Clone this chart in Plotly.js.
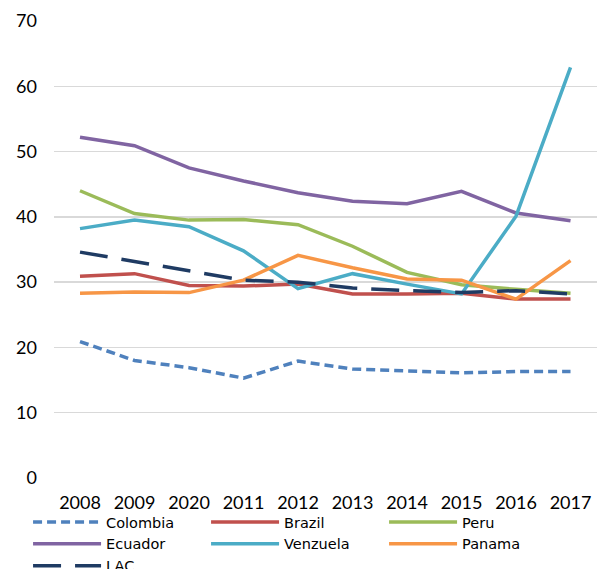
<!DOCTYPE html>
<html>
<head>
<meta charset="utf-8">
<script src="https://cdn.plot.ly/plotly-3.0.1.min.js"></script>
<style>html,body{margin:0;padding:0;background:#fff;}#chart{width:597px;height:569px;}</style>
</head>
<body>
<div id="chart"></div>
<script>
const years = ["2008","2009","2020","2011","2012","2013","2014","2015","2016","2017"];
const colombia  = [20.9, 18.0, 16.9, 15.3, 17.9, 16.7, 16.4, 16.1, 16.3, 16.3];
const brazil    = [30.9, 31.3, 29.5, 29.4, 29.7, 28.2, 28.2, 28.3, 27.4, 27.4];
const peru      = [44.0, 40.5, 39.5, 39.6, 38.8, 35.5, 31.5, 29.6, 28.9, 28.3];
const ecuador   = [52.2, 50.9, 47.5, 45.5, 43.7, 42.4, 42.0, 43.9, 40.6, 39.4];
const venezuela = [38.2, 39.5, 38.5, 34.8, 29.0, 31.3, 29.7, 28.2, 40.1, 62.9];
const panama    = [28.3, 28.5, 28.4, 30.3, 34.1, 32.2, 30.5, 30.3, 27.4, 33.3];
const lac       = [34.6, 33.2, 31.8, 30.3, 30.0, 29.1, 28.7, 28.4, 28.7, 28.2];
const yTicks = [0, 10, 20, 30, 40, 50, 60, 70];

const idx = years.map((_, i) => i);
function tr(name, y, color, dash) {
  return {type: "scatter", mode: "lines", name: name, x: idx, y: y,
          line: {color: color, width: 3.5, dash: dash || "solid"}, hoverinfo: "skip"};
}
const data = [
  tr("Colombia", colombia, "#4F81BD", "9px,5px"),
  tr("Brazil", brazil, "#C0504D"),
  tr("Peru", peru, "#9BBB59"),
  tr("Ecuador", ecuador, "#8064A2"),
  tr("Venzuela", venezuela, "#4BACC6"),
  tr("Panama", panama, "#F79646"),
  tr("LAC", lac, "#1F3B63", "28px,14px")
];
const font = "Lato, 'Open Sans', sans-serif";
const legFont = "'DejaVu Sans', sans-serif";
const layout = {
  width: 597, height: 569,
  margin: {l: 54, r: 0, t: 21, b: 91},
  paper_bgcolor: "#fff", plot_bgcolor: "#fff",
  font: {family: font, size: 18, color: "#000"},
  showlegend: true,
  xaxis: {
    range: [-0.477, 9.486], tickvals: idx, ticktext: years,
    showgrid: false, zeroline: false, showline: false, ticks: "",
    ticklabelstandoff: 12, tickfont: {family: font, size: 18, color: "#000"}, fixedrange: true
  },
  yaxis: {
    range: [0, 70], tickvals: yTicks, ticktext: yTicks.map(String),
    showgrid: true, gridcolor: "#D9D9D9", gridwidth: 1.3, zeroline: false, showline: false, ticks: "",
    ticklabelstandoff: 16, tickfont: {family: font, size: 18, color: "#000"}, fixedrange: true
  },
  legend: {
    orientation: "h", xref: "container", yref: "container",
    x: 0.047, xanchor: "left", y: 0.1107, yanchor: "top",
    itemwidth: 68, entrywidth: 95, entrywidthmode: "pixels",
    font: {family: legFont, size: 14.5, color: "#000"},
    tracegroupgap: 0, bgcolor: "rgba(0,0,0,0)"
  }
};
Plotly.newPlot("chart", data, layout, {displayModeBar: false, staticPlot: true});
</script>
</body>
</html>
